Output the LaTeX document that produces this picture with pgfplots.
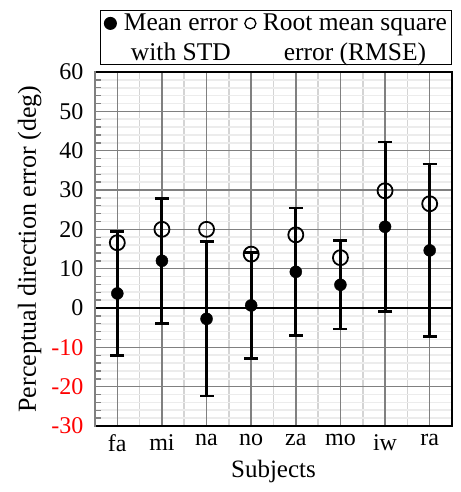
\documentclass[border=0pt]{standalone}
\usepackage{fontspec}
\setmainfont{Liberation Serif}
\usepackage{pgfplots}
\pgfplotsset{compat=1.18}
\definecolor{majgrid}{RGB}{128,128,128}
\definecolor{minxgrid}{RGB}{212,212,212}
\definecolor{minygrid}{RGB}{236,236,236}

\begin{document}
\begin{tikzpicture}
\path[use as bounding box] (-95pt,-66pt) rectangle (365pt,426pt);
\begin{axis}[
  width=357pt, height=354pt, scale only axis,
  xmin=0.5, xmax=8.5, ymin=-30, ymax=60,
  xtick={1,...,8}, xticklabels={fa,mi,na,no,za,mo,iw,ra},
  minor xtick={1.5,2.5,...,7.5},
  ytick={-30,-20,...,60},
  yticklabels={\textcolor{red}{-30},\textcolor{red}{-20},\textcolor{red}{-10},0,10,20,30,40,50,60},
  minor ytick={-28,-26,...,58},
  xminorgrids=true, yminorgrids=true,
  minor x grid style={minxgrid, line width=1.6pt},
  minor y grid style={minygrid, line width=1.6pt},
  xtick style={draw=none},
  minor x tick style={draw=none},
  ytick pos=left, tick align=inside,
  ytick style={majgrid, line width=1.4pt},
  minor y tick style={majgrid, line width=1.4pt},
  major tick length=6pt, minor tick length=6pt,
  tick label style={font=\fontsize{24}{26}\selectfont},
  yticklabel style={xshift=-8pt},
  xticklabel style={yshift=-5pt},
  xlabel={Subjects},
  ylabel={Perceptual direction error (deg)},
  xlabel style={font=\fontsize{25}{27}\selectfont, yshift=-2pt},
  ylabel style={font=\fontsize{26}{28}\selectfont, yshift=3pt},
  axis line style={draw=none},
  legend columns=2,
  legend style={at={(rel axis cs:1,1)}, anchor=south east, yshift=7pt,
    draw=black, line width=1pt, font=\fontsize{25.5}{30}\selectfont,
    nodes={align=center, inner ysep=1pt, inner xsep=1.5pt},
    /tikz/every even column/.append style={column sep=3pt}},
  clip=false,
]
% major grid, drawn over the minor grid
\pgfplotsinvokeforeach{1,...,8}{
  \draw[majgrid, line width=1.6pt] (axis cs:#1,-30) -- (axis cs:#1,60);
}
\pgfplotsinvokeforeach{-20,-10,10,20,30,40,50}{
  \draw[majgrid, line width=1.6pt] (axis cs:0.5,#1) -- (axis cs:8.5,#1);
}
\draw[black, line width=1.5pt] (axis cs:0.5,0) -- (axis cs:8.5,0);

% RMSE
\addplot[only marks, mark=o, mark size=7.5pt, black, mark options={line width=1.8pt},
  forget plot]
  coordinates {(1,16.6) (2,20.0) (3,20.0) (4,13.7) (5,18.6) (6,12.8) (7,29.8) (8,26.5)};

% mean with STD
\addplot[only marks, mark=*, mark size=6pt, black, forget plot,
  error bars/.cd, y dir=both, y explicit,
  error bar style={line width=3pt},
  error mark options={rotate=90, mark size=7pt, line width=2.6pt}]
  coordinates {(1,3.7) +- (0,15.7) (2,12.0) +- (0,15.9) (3,-2.75) +- (0,19.65)
               (4,0.65) +- (0,13.45) (5,9.2) +- (0,16.2) (6,5.9) +- (0,11.2)
               (7,20.65) +- (0,21.55) (8,14.65) +- (0,21.95)};

\addlegendimage{legend image code/.code={
  \path[draw=none, fill=none] (0pt,0pt) rectangle (19pt,1pt);
  \fill[black] (7pt,14pt) circle (6pt);}}
\addlegendentry{Mean error\\with STD}
\addlegendimage{legend image code/.code={
  \path[draw=none, fill=none] (0pt,0pt) rectangle (19pt,1pt);
  \draw[black, line width=1.3pt] (8pt,14pt) circle (5.5pt);}}
\addlegendentry{Root mean square\\error (RMSE)}

\draw[black, line width=2.2pt] (rel axis cs:0,0) -- (rel axis cs:1,0) -- (rel axis cs:1,1) -- (rel axis cs:0,1);
\draw[majgrid, line width=2.5pt] (rel axis cs:0,-0.003) -- (rel axis cs:0,1.003);
\end{axis}
\end{tikzpicture}
\end{document}
